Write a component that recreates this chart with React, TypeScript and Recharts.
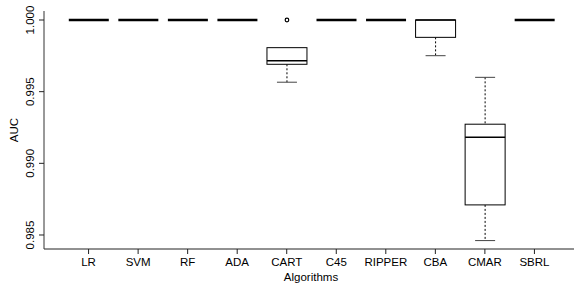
import { ComposedChart, Bar, XAxis, YAxis } from 'recharts'

const algorithms = ['LR', 'SVM', 'RF', 'ADA', 'CART', 'C45', 'RIPPER', 'CBA', 'CMAR', 'SBRL']
const whiskerLow = [1, 1, 1, 1, 0.99566, 1, 1, 0.99751, 0.98461, 1]
const q1 = [1, 1, 1, 1, 0.99691, 1, 1, 0.99879, 0.9871, 1]
const median = [1, 1, 1, 1, 0.99716, 1, 1, 1, 0.99182, 1]
const q3 = [1, 1, 1, 1, 0.99807, 1, 1, 1, 0.99273, 1]
const whiskerHigh = [1, 1, 1, 1, 0.99807, 1, 1, 1, 0.996, 1]
const outliers: number[][] = [[], [], [], [], [1], [], [], [], [], []]
const yTicks = [0.985, 0.99, 0.995, 1.0]

const FONT = '"Liberation Sans", Arial, sans-serif'

const data = algorithms.map((name, i) => {
  const all = [whiskerLow[i], whiskerHigh[i], ...outliers[i]]
  return {
    name,
    lo: whiskerLow[i],
    q1: q1[i],
    med: median[i],
    q3: q3[i],
    hi: whiskerHigh[i],
    out: outliers[i],
    range: [Math.min(...all), Math.max(...all)],
  }
})

function BoxShape(props: any) {
  const { x, y, width, height, payload } = props
  const [rLo, rHi] = payload.range
  const py = (v: number) => (rHi > rLo ? y + (height * (rHi - v)) / (rHi - rLo) : y)
  const cx = x + width / 2
  const cap = width / 4
  const flat = payload.q1 === payload.q3
  return (
    <g>
      {payload.hi > payload.q3 && (
        <>
          <line x1={cx} x2={cx} y1={py(payload.hi)} y2={py(payload.q3)} stroke="#000" strokeDasharray="2 2" />
          <line x1={cx - cap} x2={cx + cap} y1={py(payload.hi)} y2={py(payload.hi)} stroke="#444" />
        </>
      )}
      {payload.lo < payload.q1 && (
        <>
          <line x1={cx} x2={cx} y1={py(payload.q1)} y2={py(payload.lo)} stroke="#000" strokeDasharray="2 2" />
          <line x1={cx - cap} x2={cx + cap} y1={py(payload.lo)} y2={py(payload.lo)} stroke="#444" />
        </>
      )}
      {!flat && (
        <rect x={x} y={py(payload.q3)} width={width} height={py(payload.q1) - py(payload.q3)} fill="#fff" stroke="#000" />
      )}
      <line
        x1={x}
        x2={x + width}
        y1={py(payload.med)}
        y2={py(payload.med)}
        stroke="#000"
        strokeWidth={flat ? 2.4 : 1.5}
      />
      {payload.out.map((v: number, k: number) => (
        <circle key={k} cx={cx} cy={py(v)} r={1.8} fill="none" stroke="#000" strokeWidth={1.2} />
      ))}
    </g>
  )
}

function YTick(props: any) {
  const { y, payload } = props
  return (
    <text x={30} y={y} transform={`rotate(-90, 30, ${y})`} textAnchor="middle" dominantBaseline="central" fontSize={11.5} fontFamily={FONT} fill="#000">
      {payload.value.toFixed(3)}
    </text>
  )
}

function XTick(props: any) {
  const { x, payload } = props
  return (
    <text x={x} y={262} textAnchor="middle" dominantBaseline="central" fontSize={11.5} fontFamily={FONT} fill="#000">
      {payload.value}
    </text>
  )
}

export default function App() {
  return (
    <div style={{ position: 'absolute', left: 0, top: 0, width: 574, height: 284, overflow: 'hidden', background: '#fff' }}>
      <ComposedChart width={579} height={284} data={data} margin={{ top: 11, right: 0, bottom: 0, left: 0 }}>
        <XAxis
          dataKey="name"
          padding={{ left: 19.8, right: 19.8 }}
          height={35}
          tickSize={5}
          tick={<XTick />}
          interval={0}
          axisLine={{ stroke: '#222' }}
          tickLine={{ stroke: '#222' }}
        />
        <XAxis xAxisId="top" dataKey="name" orientation="top" height={0} tick={false} tickLine={false} axisLine={{ stroke: '#777' }} />
        <YAxis
          width={44}
          domain={[0.984023, 1.000628]}
          ticks={yTicks}
          allowDataOverflow
          tickSize={5}
          tick={<YTick />}
          axisLine={{ stroke: '#333' }}
          tickLine={{ stroke: '#222' }}
        />
        <Bar dataKey="range" barSize={40} shape={<BoxShape />} isAnimationActive={false} />
        <text x={14} y={130} transform="rotate(-90, 14, 130)" textAnchor="middle" dominantBaseline="central" fontSize={11.5} fontFamily={FONT} fill="#000">
          AUC
        </text>
        <text x={311} y={277} textAnchor="middle" dominantBaseline="central" fontSize={11.5} fontFamily={FONT} fill="#000">
          Algorithms
        </text>
      </ComposedChart>
    </div>
  )
}
